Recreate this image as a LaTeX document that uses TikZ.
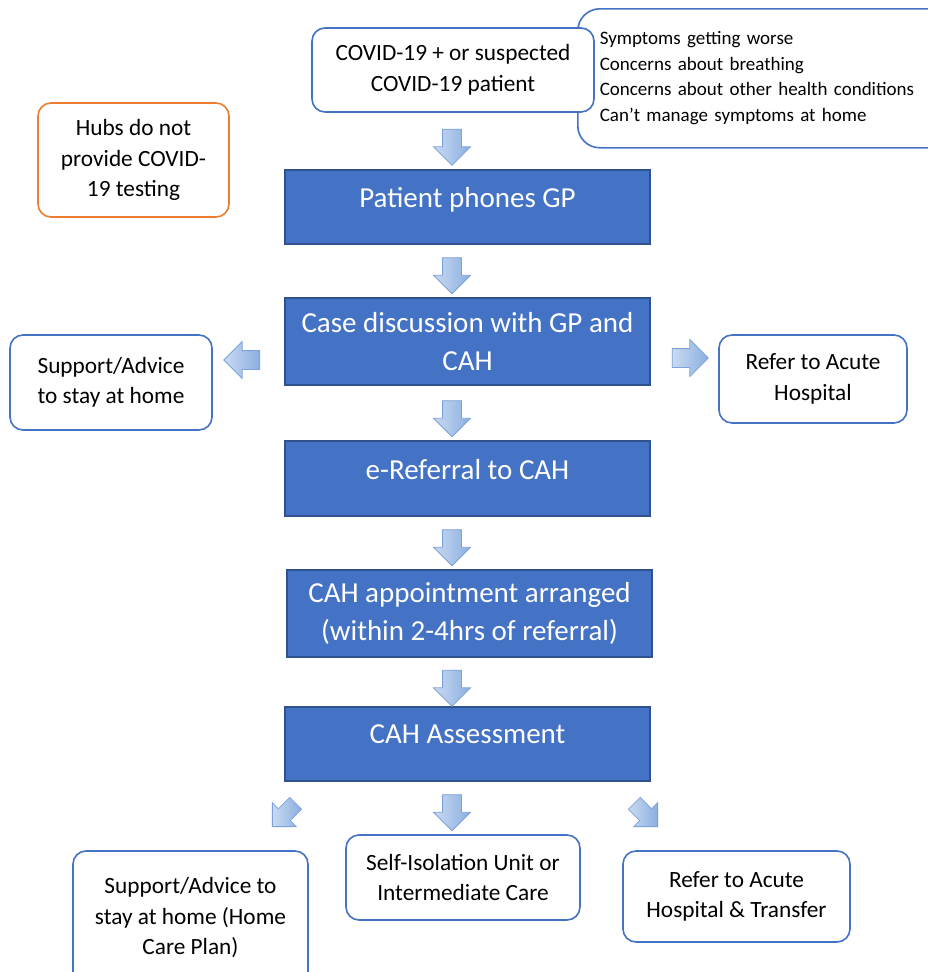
\documentclass[tikz,border=0pt]{standalone}
\usepackage{fontspec}
\setmainfont{Carlito}
\usetikzlibrary{shapes.arrows}
\definecolor{boxblue}{HTML}{4472C4}
\definecolor{boxedge}{HTML}{2F528F}
\definecolor{hubsorange}{HTML}{ED7D31}
\definecolor{arrowlight}{HTML}{C9DAF1}
\definecolor{arrowdark}{HTML}{8BAEE0}
\definecolor{arrowedge}{HTML}{7DA2DA}
\tikzset{
  stepbox/.style={draw=boxedge, line width=1.2pt, fill=boxblue, text=white, align=center,
    minimum width=365pt, font=\fontsize{29}{37.5}\selectfont},
  onerow/.style={text depth=19pt},
  whitebox/.style={draw=boxblue, line width=1.6pt, fill=white, rounded corners=13pt,
    align=center, font=\fontsize{23.3}{30.5}\selectfont},
  flowarrow/.style={single arrow, draw=arrowedge, line width=0.8pt, left color=arrowlight,
    right color=arrowdark, inner sep=9pt, minimum height=36pt, single arrow head extend=9pt},
  sidearrow/.style={flowarrow, inner sep=8pt, minimum height=33pt, single arrow head extend=8.5pt}
}
\begin{document}
\begin{tikzpicture}[x=1pt, y=-1pt]
  \fill[white] (0,0) rectangle (927,972) ;
  \useasboundingbox (0,0) rectangle (927,972) ;
  % top row
  \node[whitebox, rounded corners=22pt, anchor=north west, align=left, text width=330pt,
    inner xsep=22pt, minimum height=139pt, font=\fontsize{19}{25.5}\selectfont]
    (symptoms) at (577,8) {Symptoms getting worse\\Concerns about breathing\\
    Concerns about other health conditions\\Can’t manage symptoms at home} ;
  \node[whitebox, minimum width=282pt, minimum height=84pt] (patient) at (453,70)
    {COVID-19 + or suspected\\COVID-19 patient} ;
  \node[whitebox, draw=hubsorange, minimum width=191pt, minimum height=114pt] (hubs)
    at (133.5,160) {Hubs do not\\provide COVID-\\19 testing} ;
  % main steps
  \node[stepbox, onerow, minimum height=74pt] (phones) at (467.5,207) {Patient phones GP} ;
  \node[stepbox, minimum height=87pt] (case) at (467.5,341.5) {Case discussion with GP and\\CAH} ;
  \node[stepbox, onerow, minimum height=75pt] (ereferral) at (467.5,478.5) {e-Referral to CAH} ;
  \node[stepbox, minimum height=87pt] (appointment) at (469.5,613.5)
    {CAH appointment arranged\\(within 2-4hrs of referral)} ;
  \node[stepbox, onerow, minimum height=74pt] (assessment) at (467.5,744) {CAH Assessment} ;
  % side boxes
  \node[whitebox, minimum width=202pt, minimum height=95pt] (stayhome) at (111,382.5)
    {Support/Advice\\to stay at home} ;
  \node[whitebox, minimum width=188pt, minimum height=88pt] (acute) at (813,379)
    {Refer to Acute\\Hospital} ;
  % outcomes
  \node[whitebox, minimum width=235pt, minimum height=134pt] (careplan) at (190.5,918)
    {Support/Advice to\\stay at home (Home\\Care Plan)} ;
  \node[whitebox, minimum width=234pt, minimum height=85pt] (isolation) at (463,877.5)
    {Self-Isolation Unit or\\Intermediate Care} ;
  \node[whitebox, minimum width=227pt, minimum height=91pt] (transfer) at (736.5,896.5)
    {Refer to Acute\\Hospital \& Transfer} ;
  % block arrows
  \node[flowarrow, rotate=-90] (toPhones) at (452,142.5) {} ;
  \node[flowarrow, rotate=-90] (toCase) at (452,271) {} ;
  \node[flowarrow, rotate=-90] (toReferral) at (452,414) {} ;
  \node[flowarrow, rotate=-90] (toAppointment) at (452,543) {} ;
  \node[flowarrow, rotate=-90] (toAssessment) at (452,683.5) {} ;
  \node[flowarrow, rotate=-90] (toIsolation) at (452,808) {} ;
  \node[flowarrow, rotate=180] (toStayhome) at (246.5,360) {} ;
  \node[flowarrow] (toAcute) at (685.5,358) {} ;
  \node[sidearrow, rotate=-135] (toCareplan) at (287,812) {} ;
  \node[sidearrow, rotate=-45] (toTransfer) at (643,812) {} ;
\end{tikzpicture}
\end{document}
